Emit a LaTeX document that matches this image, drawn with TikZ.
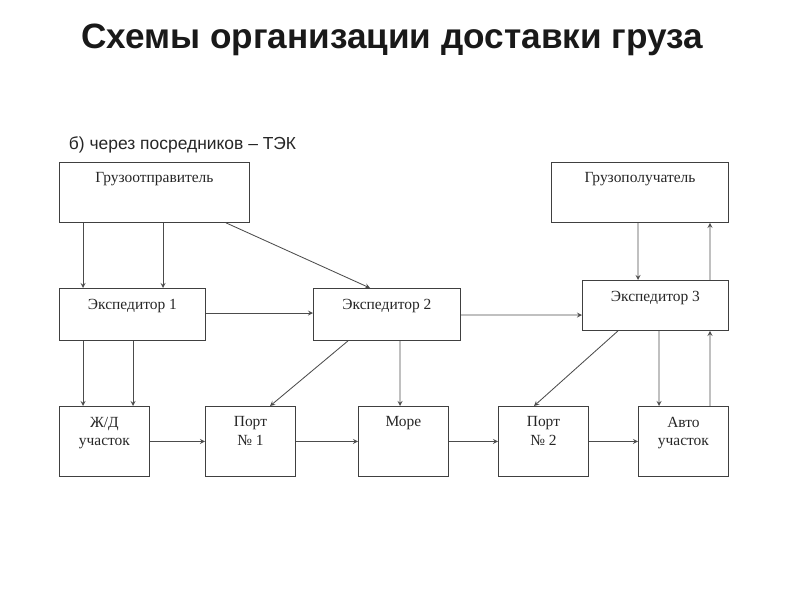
\documentclass[tikz,border=0pt]{standalone}
\usepackage{fontspec}
\setmainfont{Liberation Serif}
\newfontfamily\headfont{Liberation Sans}
\usetikzlibrary{shapes, arrows}

\begin{document}
\begin{tikzpicture}[x=0.025cm, y=-0.025cm, >=stealth]
    \tikzstyle{block} = [rectangle, draw=black!75, line width=0.6pt, anchor=north west, inner sep=0pt, minimum width=2.25cm, minimum height=1.75cm]
    \tikzstyle{line} = [draw=black!70, ->, line width=0.6pt]
    \tikzstyle{caption} = [anchor=north, inner sep=0pt, yshift=-7.5pt, align=center, font=\fontsize{11}{13}\selectfont, text=black!85]

    \useasboundingbox (0,0) rectangle (800,600);

    % Titles
    \node [font=\headfont\bfseries\fontsize{25}{29}\selectfont, text=black!90] (title) at (392,40) {Схемы организации доставки груза};
    \node [anchor=west, font=\headfont\fontsize{12.4}{14}\selectfont, text=black!85] (subtitle) at (64,145) {б) через посредников – ТЭК};

    % Nodes
    \node [block, minimum width=4.75cm, minimum height=1.5cm, label={[caption]north:Грузоотправитель}] (sender) at (59,162) {};
    \node [block, minimum width=4.425cm, minimum height=1.5cm, label={[caption]north:Грузополучатель}] (receiver) at (551,162) {};
    \node [block, minimum width=3.65cm, minimum height=1.3cm, label={[caption]north:Экспедитор 1}] (exp1) at (59,288) {};
    \node [block, minimum width=3.675cm, minimum height=1.3cm, label={[caption]north:Экспедитор 2}] (exp2) at (313,288) {};
    \node [block, minimum width=3.65cm, minimum height=1.25cm, label={[caption]north:Экспедитор 3}] (exp3) at (582,280) {};
    \node [block, label={[caption]north:Ж/Д\\участок}] (rail) at (59,406) {};
    \node [block, label={[caption]north:Порт\\№ 1}] (port1) at (205,406) {};
    \node [block, label={[caption]north:Море}] (sea) at (358,406) {};
    \node [block, label={[caption]north:Порт\\№ 2}] (port2) at (498,406) {};
    \node [block, label={[caption]north:Авто\\участок}] (auto) at (638,406) {};

    % Paths
    \path [line] ([xshift=0.6cm]sender.south west) -- ([xshift=0.6cm]exp1.north west);
    \path [line] ([xshift=2.6cm]sender.south west) -- ([xshift=2.6cm]exp1.north west);
    \path [line] ([xshift=4.175cm]sender.south west) -- ([xshift=1.425cm]exp2.north west);
    \path [line] ([yshift=-0.625cm]exp1.north east) -- ([yshift=-0.625cm]exp2.north west);
    \path [line] ([yshift=-0.675cm]exp2.north east) -- ([yshift=-0.875cm]exp3.north west);
    \path [line] ([xshift=0.6cm]exp1.south west) -- ([xshift=0.6cm]rail.north west);
    \path [line] ([xshift=1.85cm]exp1.south west) -- ([xshift=1.85cm]rail.north west);
    \path [line] ([xshift=0.875cm]exp2.south west) -- ([xshift=1.625cm]port1.north west);
    \path [line] ([xshift=2.175cm]exp2.south west) -- ([xshift=1.05cm]sea.north west);
    \path [line] (rail) -- (port1);
    \path [line] (port1) -- (sea);
    \path [line] (sea) -- (port2);
    \path [line] (port2) -- (auto);
    \path [line] ([xshift=0.9cm]exp3.south west) -- ([xshift=0.9cm]port2.north west);
    \path [line] ([xshift=1.925cm]exp3.south west) -- ([xshift=0.525cm]auto.north west);
    \path [line] ([xshift=1.8cm]auto.north west) -- ([xshift=3.2cm]exp3.south west);
    \path [line] ([xshift=2.175cm]receiver.south west) -- ([xshift=1.4cm]exp3.north west);
    \path [line] ([xshift=3.2cm]exp3.north west) -- ([xshift=3.975cm]receiver.south west);

\end{tikzpicture}
\end{document}
